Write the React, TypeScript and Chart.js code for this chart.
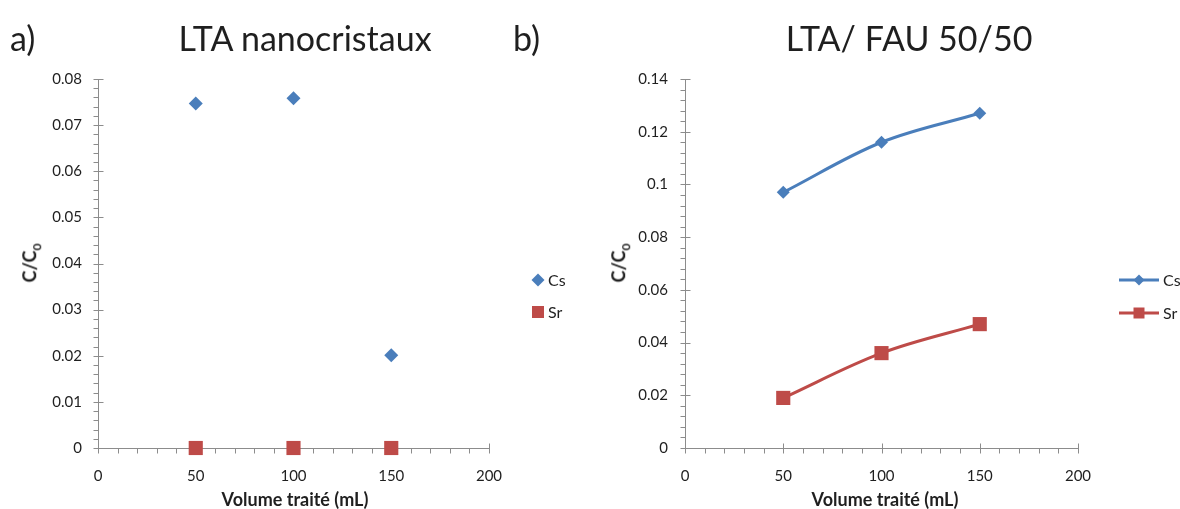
import React, { useEffect, useRef } from "react";
import { Chart, registerables } from "chart.js";

Chart.register(...registerables);

// ---- data ----
const volumes = [50, 100, 150];
const seriesNames = ["Cs", "Sr"];
const csA = [0.0747, 0.0758, 0.0201];
const srA = [0, 0, 0];
const csB = [0.097, 0.116, 0.127];
const srB = [0.019, 0.036, 0.047];
const xTickValues = [0, 50, 100, 150, 200];
const yTickValuesA = [0, 0.01, 0.02, 0.03, 0.04, 0.05, 0.06, 0.07, 0.08];
const yTickValuesB = [0, 0.02, 0.04, 0.06, 0.08, 0.1, 0.12, 0.14];
const titleA = "LTA nanocristaux";
const titleB = "LTA/ FAU 50/50";
const xAxisTitle = "Volume traité (mL)";

const BLUE = "#4A7EBB";
const RED = "#BE4B48";
const AXIS = "#8C8C8C";
const TEXT = "#1F1F1F";
const FONT = "Lato, 'Open Sans', sans-serif";

const fmt = (v: number) => String(Number(v.toFixed(4)));

const axesPlugin = {
  id: "excelAxes",
  beforeDatasetsDraw(chart: any, _a: any, o: any) {
    const { ctx } = chart;
    const xs = chart.scales.x;
    const ys = chart.scales.y;
    const x0 = Math.round(xs.getPixelForValue(xs.min)) + 0.5;
    const y0 = Math.round(ys.getPixelForValue(ys.min)) + 0.5;
    ctx.save();
    ctx.strokeStyle = AXIS;
    ctx.lineWidth = 1;
    ctx.beginPath();
    ctx.moveTo(x0, Math.round(ys.getPixelForValue(ys.max)) + 0.5);
    ctx.lineTo(x0, y0);
    ctx.lineTo(Math.round(xs.getPixelForValue(xs.max)) + 0.5, y0);
    const nx = Math.round((xs.max - xs.min) / o.xMinor);
    for (let i = 0; i <= nx; i++) {
      const v = xs.min + i * o.xMinor;
      const px = Math.round(xs.getPixelForValue(v)) + 0.5;
      const major = i % o.xPer === 0;
      ctx.moveTo(px, major ? y0 - 5 : y0);
      ctx.lineTo(px, y0 + 5);
    }
    const ny = Math.round((ys.max - ys.min) / o.yMinor);
    for (let i = 0; i <= ny; i++) {
      const v = ys.min + i * o.yMinor;
      const py = Math.round(ys.getPixelForValue(v)) + 0.5;
      const major = i % o.yPer === 0;
      ctx.moveTo(x0 - 5, py);
      ctx.lineTo(major ? x0 + 5 : x0, py);
    }
    ctx.stroke();
    ctx.restore();
  },
};

const legendPlugin = {
  id: "excelLegend",
  afterDraw(chart: any, _a: any, o: any) {
    const { ctx, chartArea } = chart;
    ctx.save();
    chart.data.datasets.forEach((ds: any, i: number) => {
      const y = o.ys[i];
      const mx = chartArea.right + o.markerDx;
      if (o.line) {
        ctx.strokeStyle = ds.borderColor;
        ctx.lineWidth = 3;
        ctx.beginPath();
        ctx.moveTo(chartArea.right + o.lineFrom, y);
        ctx.lineTo(chartArea.right + o.lineTo, y);
        ctx.stroke();
      }
      ctx.fillStyle = ds.pointBackgroundColor;
      ctx.beginPath();
      if (ds.pointStyle === "rectRot") {
        const r = o.diamond;
        ctx.moveTo(mx, y - r);
        ctx.lineTo(mx + r, y);
        ctx.lineTo(mx, y + r);
        ctx.lineTo(mx - r, y);
        ctx.closePath();
      } else {
        const s = o.square;
        ctx.rect(mx - s / 2, y - s / 2, s, s);
      }
      ctx.fill();
      ctx.fillStyle = TEXT;
      ctx.font = `16px ${FONT}`;
      ctx.textAlign = "left";
      ctx.textBaseline = "middle";
      ctx.fillText(ds.label, chartArea.right + o.textDx, y + 1);
    });
    ctx.restore();
  },
};

function makeConfig(p: any) {
  return {
    type: "line",
    data: {
      datasets: [
        {
          label: seriesNames[0],
          data: volumes.map((x, i) => ({ x, y: p.cs[i] })),
          borderColor: BLUE,
          backgroundColor: BLUE,
          pointBackgroundColor: BLUE,
          pointBorderColor: BLUE,
          pointBorderWidth: 0,
          pointStyle: "rectRot",
          pointRadius: p.diamondR,
          showLine: p.showLine,
          borderWidth: 3,
          tension: 0.35,
          clip: false,
        },
        {
          label: seriesNames[1],
          data: volumes.map((x, i) => ({ x, y: p.sr[i] })),
          borderColor: RED,
          backgroundColor: RED,
          pointBackgroundColor: RED,
          pointBorderColor: RED,
          pointBorderWidth: 0,
          pointStyle: "rect",
          pointRadius: p.squareR,
          showLine: p.showLine,
          borderWidth: 3,
          tension: 0.35,
          clip: false,
        },
      ],
    },
    options: {
      responsive: false,
      animation: false,
      devicePixelRatio: 1,
      layout: { padding: { top: 79, right: p.padRight, left: 0, bottom: 0 } },
      plugins: {
        legend: { display: false },
        title: { display: false },
        tooltip: { enabled: false },
        excelAxes: p.axes,
        excelLegend: p.legend,
      },
      scales: {
        x: {
          type: "linear",
          min: 0,
          max: 200,
          afterBuildTicks: (s: any) => {
            s.ticks = xTickValues.map((v) => ({ value: v }));
          },
          afterFit: (s: any) => {
            s.height = 61;
          },
          grid: { display: false, drawTicks: false },
          border: { display: false },
          ticks: {
            padding: 19,
            color: TEXT,
            font: { family: FONT, size: 15 },
            callback: (v: number) => fmt(v),
            maxRotation: 0,
          },
        },
        y: {
          type: "linear",
          min: 0,
          max: p.yMax,
          afterBuildTicks: (s: any) => {
            s.ticks = p.yTicks.map((v: number) => ({ value: v }));
          },
          afterFit: (s: any) => {
            s.width = p.yWidth;
          },
          grid: { display: false, drawTicks: false },
          border: { display: false },
          ticks: {
            padding: p.yPad,
            color: TEXT,
            font: { family: FONT, size: 15 },
            callback: (v: number) => fmt(v),
          },
        },
      },
    },
    plugins: [axesPlugin, legendPlugin],
  };
}

function ChartCanvas({ cfg }: { cfg: any }) {
  const ref = useRef<HTMLCanvasElement | null>(null);
  useEffect(() => {
    if (!ref.current) return;
    const chart = new Chart(ref.current, makeConfig(cfg) as any);
    return () => chart.destroy();
  }, []);
  return <canvas ref={ref} width={590} height={509} style={{ display: "block" }} />;
}

const cfgA = {
  cs: csA,
  sr: srA,
  yMax: 0.08,
  yTicks: yTickValuesA,
  yWidth: 98,
  yPad: 16,
  padRight: 101,
  showLine: false,
  diamondR: 7,
  squareR: 10,
  axes: { xMinor: 10, xPer: 5, yMinor: 0.002, yPer: 5 },
  legend: { ys: [280, 312], markerDx: 49, textDx: 59, diamond: 6.5, square: 12, line: false },
};

const cfgB = {
  cs: csB,
  sr: srB,
  yMax: 0.14,
  yTicks: yTickValuesB,
  yWidth: 95,
  yPad: 17,
  padRight: 102,
  showLine: true,
  diamondR: 6.5,
  squareR: 10,
  axes: { xMinor: 10, xPer: 5, yMinor: 0.004, yPer: 5 },
  legend: {
    ys: [280, 313],
    markerDx: 61,
    textDx: 85,
    lineFrom: 41,
    lineTo: 81,
    diamond: 5.5,
    square: 11,
    line: true,
  },
};

const abs = (s: any): any => ({ position: "absolute", whiteSpace: "nowrap", ...s });

export default function App() {
  const big = { fontFamily: FONT, fontSize: 34, lineHeight: "34px", color: TEXT };
  const axisT = { fontFamily: FONT, fontSize: 18, fontWeight: 700, lineHeight: "18px", color: TEXT };
  return (
    <div style={{ position: "absolute", left: 0, top: 0, width: 1180, height: 509, background: "#fff", overflow: "hidden" }}>
      <div style={abs({ left: 0, top: 0 })}>
        <ChartCanvas cfg={cfgA} />
      </div>
      <div style={abs({ left: 590, top: 0 })}>
        <ChartCanvas cfg={cfgB} />
      </div>
      <div style={abs({ ...big, left: 10, top: 21 })}>a)</div>
      <div style={abs({ ...big, left: 305, top: 21, transform: "translateX(-50%)" })}>{titleA}</div>
      <div style={abs({ ...big, left: 513, top: 21 })}>b)</div>
      <div style={abs({ ...big, left: 909, top: 21, transform: "translateX(-50%)" })}>{titleB}</div>
      <div style={abs({ ...axisT, left: 295, top: 490, transform: "translateX(-50%)" })}>{xAxisTitle}</div>
      <div style={abs({ ...axisT, left: 885, top: 490, transform: "translateX(-50%)" })}>{xAxisTitle}</div>
      <div style={abs({ ...axisT, left: 33, top: 263, transform: "translate(-50%,-50%) rotate(-90deg)" })}>
        C/C<sub style={{ fontSize: 12 }}>0</sub>
      </div>
      <div style={abs({ ...axisT, left: 622, top: 263, transform: "translate(-50%,-50%) rotate(-90deg)" })}>
        C/C<sub style={{ fontSize: 12 }}>0</sub>
      </div>
    </div>
  );
}
